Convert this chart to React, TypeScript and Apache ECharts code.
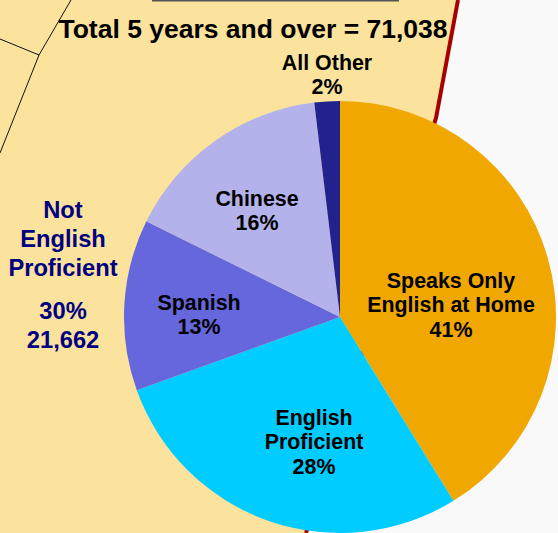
import React, { useEffect, useRef } from "react";
import * as echarts from "echarts";

const categories = ["Speaks Only\nEnglish at Home", "English\nProficient", "Spanish", "Chinese", "All Other"];
const percentLabels = ["41%", "28%", "13%", "16%", "2%"];
const values = [41.2, 28.3, 12.8, 15.8, 1.9];
const colors = ["#F0A800", "#00CCFF", "#6666DD", "#B4B2EA", "#22228F"];
const titleText = "Total 5 years and over = 71,038";
const sideLabel = "Not\nEnglish\nProficient";
const sidePercent = "30%\n21,662";

const FONT = '"Liberation Sans", Arial, sans-serif';
const labelCentres = [
  [451, 305],
  [314, 442],
  [199, 315],
  [257, 211],
  [327, 75],
];

export default function App() {
  const ref = useRef<HTMLDivElement>(null);
  useEffect(() => {
    document.body.style.margin = "0";
    const chart = echarts.init(ref.current!, null, { renderer: "svg" });
    chart.setOption({
      animation: false,
      backgroundColor: "#F9F9F9",
      graphic: [
        {
          type: "polygon", z: -10, silent: true,
          shape: { points: [[0, 0], [457, 0], [435, 118], [306, 533], [0, 533]] },
          style: { fill: "#FBE29D" },
        },
        {
          type: "polyline", z: -9, silent: true,
          shape: { points: [[458, 0], [436, 118], [306, 533]] },
          style: { stroke: "#A80000", lineWidth: 4, fill: "none" },
        },
        {
          type: "polyline", z: -9, silent: true,
          shape: { points: [[0, 39], [39, 55], [0, 153]] },
          style: { stroke: "#111111", lineWidth: 1, fill: "none" },
        },
        {
          type: "line", z: -9, silent: true,
          shape: { x1: 39, y1: 55, x2: 71, y2: 0 },
          style: { stroke: "#111111", lineWidth: 1 },
        },
        {
          type: "line", z: -9, silent: true,
          shape: { x1: 152, y1: 0.5, x2: 399, y2: 0.5 },
          style: { stroke: "#555555", lineWidth: 2 },
        },
        {
          type: "text", z: 20, x: 253, y: 29, silent: true,
          style: { text: titleText, font: `bold 26.5px ${FONT}`, fill: "#000000", align: "center", verticalAlign: "middle" },
        },
        {
          type: "text", z: 20, x: 63, y: 239, silent: true,
          style: { text: sideLabel, font: `bold 23.7px ${FONT}`, lineHeight: 29, fill: "#000080", align: "center", verticalAlign: "middle" },
        },
        {
          type: "text", z: 20, x: 63, y: 325, silent: true,
          style: { text: sidePercent, font: `bold 23.7px ${FONT}`, lineHeight: 29, fill: "#000080", align: "center", verticalAlign: "middle" },
        },
      ],
      series: [
        {
          type: "pie",
          z: 5,
          center: [340, 317],
          radius: [0, 216],
          startAngle: 90,
          clockwise: true,
          silent: true,
          data: categories.map((name, i) => ({
            name,
            value: values[i],
            itemStyle: { color: colors[i] },
          })),
          label: {
            show: true,
            position: "inside",
            formatter: (p: any) => `${categories[p.dataIndex]}\n${percentLabels[p.dataIndex]}`,
            fontFamily: FONT,
            fontWeight: "bold",
            fontSize: 21.4,
            lineHeight: 24.5,
            color: "#000000",
            align: "center",
            verticalAlign: "middle",
          },
          labelLine: { show: false },
          labelLayout: (p: any) => ({
            x: labelCentres[p.dataIndex][0],
            y: labelCentres[p.dataIndex][1],
            align: "center",
            verticalAlign: "middle",
          }),
        },
      ],
    });
    return () => chart.dispose();
  }, []);
  return <div ref={ref} style={{ position: "absolute", left: 0, top: 0, width: 558, height: 533 }} />;
}
